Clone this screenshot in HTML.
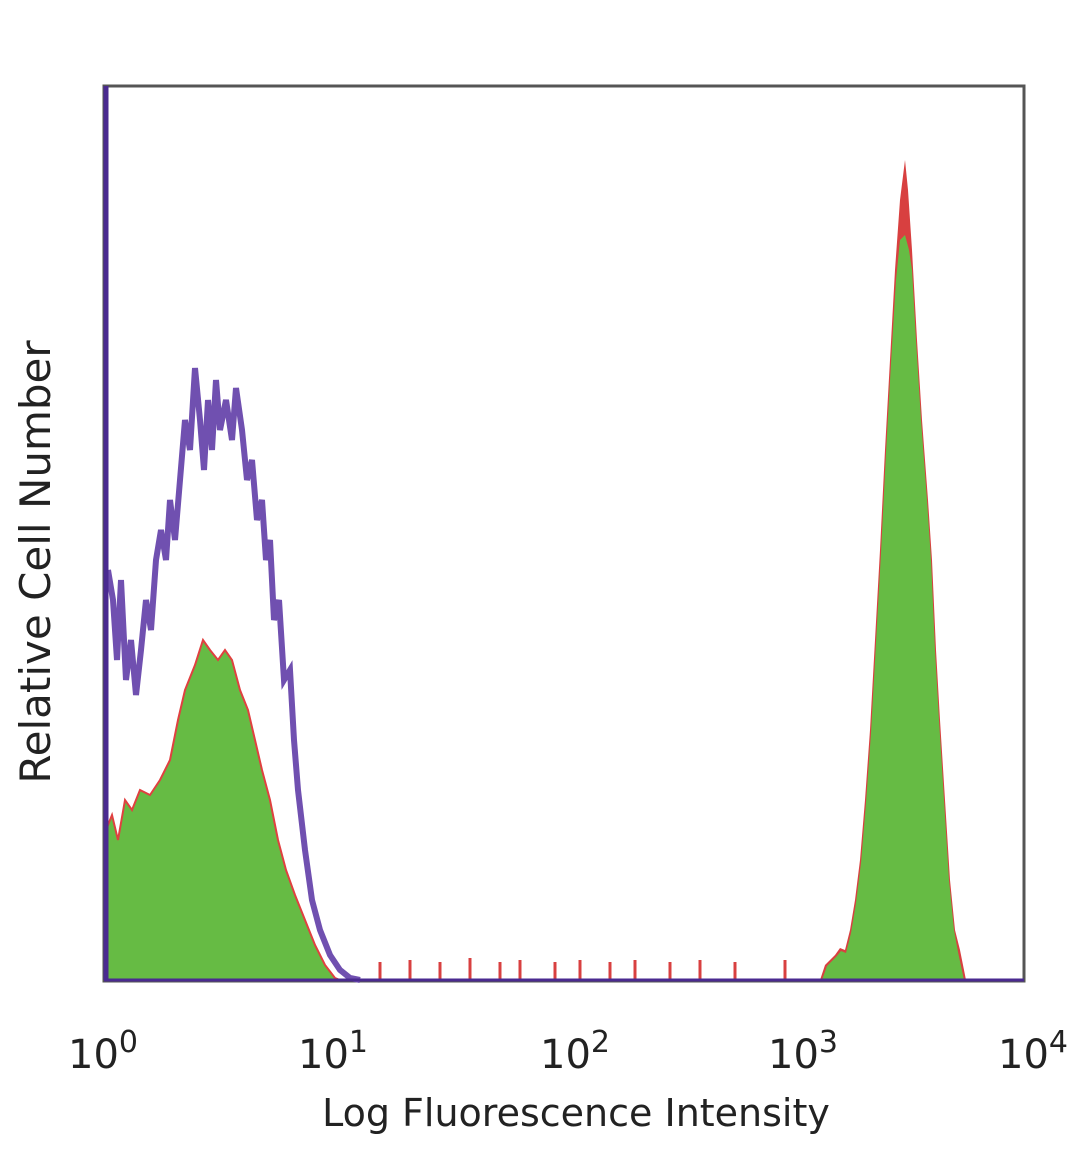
<!DOCTYPE html>
<html><head><style>body{margin:0;background:#fff;width:1080px;height:1169px;overflow:hidden}</style></head>
<body>
<svg width="1080" height="1169" xmlns="http://www.w3.org/2000/svg" font-family="DejaVu Sans, Liberation Sans, sans-serif">
<rect x="104" y="86" width="920" height="895" fill="#fff" stroke="#555" stroke-width="3"/>
<!-- green left -->
<polygon fill="#66bb44" stroke="#e04040" stroke-width="2" points="106,980 106,830 112,815 118,840 125,800 132,810 140,790 150,795 160,780 170,760 178,720 185,690 195,665 203,640 210,650 218,660 225,650 232,660 240,690 248,710 255,740 262,770 270,800 278,840 286,870 295,895 305,920 315,945 325,965 335,978 340,980"/>
<g stroke="#d84040" stroke-width="3">
<line x1="380" y1="980" x2="380" y2="962"/><line x1="410" y1="980" x2="410" y2="960"/><line x1="440" y1="980" x2="440" y2="962"/><line x1="470" y1="980" x2="470" y2="958"/><line x1="500" y1="980" x2="500" y2="962"/><line x1="520" y1="980" x2="520" y2="960"/><line x1="555" y1="980" x2="555" y2="962"/><line x1="580" y1="980" x2="580" y2="960"/><line x1="610" y1="980" x2="610" y2="962"/><line x1="635" y1="980" x2="635" y2="960"/><line x1="670" y1="980" x2="670" y2="962"/><line x1="700" y1="980" x2="700" y2="960"/><line x1="735" y1="980" x2="735" y2="962"/><line x1="785" y1="980" x2="785" y2="960"/>
</g>
<!-- purple left -->
<polyline fill="none" stroke="#7050b0" stroke-width="6" points="108,570 113,600 117,660 121,580 126,680 131,640 136,695 141,650 146,600 151,630 156,560 161,530 166,560 170,500 175,540 180,480 185,420 190,450 195,368 200,420 204,470 208,400 212,450 216,380 220,430 226,400 232,440 236,388 242,430 247,480 252,460 257,520 262,500 266,560 270,540 274,620 279,600 284,680 290,670 294,740 298,790 305,850 312,900 320,930 330,955 340,970 350,978 360,980"/>
<!-- right peak: red outline then green -->
<polygon fill="#d84040" points="820,980 825,965 835,955 840,948 845,950 850,930 855,900 860,860 865,800 870,730 875,640 880,550 885,450 890,360 895,270 900,200 905,160 908,190 912,250 917,340 922,420 928,500 932,560 936,650 940,720 945,800 950,880 955,930 960,950 966,980"/>
<polygon fill="#66bb44" points="822,980 827,966 836,957 841,951 846,953 851,933 856,903 861,863 866,803 871,733 876,643 881,553 886,453 891,363 896,280 900,240 905,235 909,250 912,270 916,340 921,420 927,500 931,560 935,650 939,720 944,800 949,880 954,930 958,952 964,980"/>
<line x1="106" y1="86" x2="106" y2="980" stroke="#4a2a90" stroke-width="5"/>
<line x1="104" y1="980" x2="1024" y2="980" stroke="#4a2a90" stroke-width="3"/>
<g font-size="40" fill="#222">
<text x="68" y="1068">10<tspan font-size="30" dy="-16">0</tspan></text>
<text x="298" y="1068">10<tspan font-size="30" dy="-16">1</tspan></text>
<text x="540" y="1068">10<tspan font-size="30" dy="-16">2</tspan></text>
<text x="768" y="1068">10<tspan font-size="30" dy="-16">3</tspan></text>
<text x="998" y="1068">10<tspan font-size="30" dy="-16">4</tspan></text>
</g>
<text x="576" y="1126" font-size="38" fill="#222" text-anchor="middle">Log Fluorescence Intensity</text>
<text transform="translate(50,562) rotate(-90)" font-size="42" fill="#222" text-anchor="middle">Relative Cell Number</text>
</svg>
</body></html>
